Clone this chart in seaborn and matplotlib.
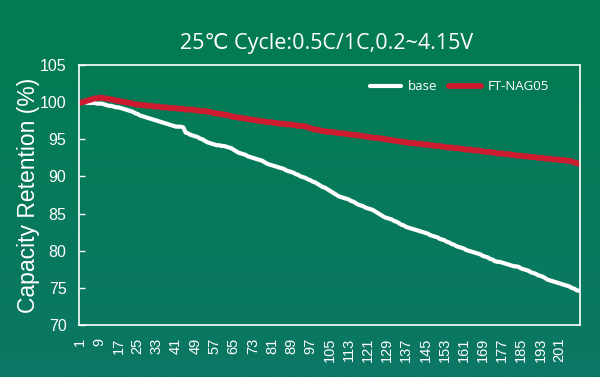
import seaborn as sns
import pandas as pd
import matplotlib.pyplot as plt
import numpy as np

sns.set_theme(style='ticks', rc={'axes.facecolor': 'none', 'text.color': 'white',
                                 'axes.edgecolor': 'white', 'xtick.color': 'white',
                                 'ytick.color': 'white', 'axes.labelcolor': 'white'})
plt.rcParams['font.family'] = ['Liberation Sans', 'DejaVu Sans']

title = '25\u2103 Cycle:0.5C/1C,0.2~4.15V'
y_name = 'Capacity Retention (%)'
x_name = 'Cycle'

cycles = list(range(1, 210))
x_ticks = list(range(1, 202, 8))
y_ticks = [70, 75, 80, 85, 90, 95, 100, 105]

base = [
    100.0, 100.0, 100.0, 99.9, 99.9, 99.9, 99.9, 99.8, 99.8, 99.8,
    99.7, 99.6, 99.5, 99.5, 99.4, 99.3, 99.3, 99.2, 99.1, 99.0,
    98.9, 98.8, 98.7, 98.5, 98.4, 98.2, 98.1, 98.0, 97.9, 97.8,
    97.7, 97.6, 97.5, 97.4, 97.3, 97.2, 97.1, 97.0, 96.9, 96.8,
    96.7, 96.7, 96.7, 96.6, 95.9, 95.8, 95.6, 95.5, 95.4, 95.3,
    95.1, 95.0, 94.8, 94.6, 94.5, 94.4, 94.3, 94.2, 94.2, 94.1,
    94.1, 94.0, 93.9, 93.8, 93.6, 93.4, 93.2, 93.1, 93.0, 92.9,
    92.7, 92.6, 92.5, 92.4, 92.3, 92.2, 92.1, 91.9, 91.7, 91.6,
    91.5, 91.4, 91.3, 91.2, 91.1, 91.0, 90.8, 90.7, 90.6, 90.5,
    90.3, 90.2, 90.0, 89.9, 89.8, 89.6, 89.5, 89.3, 89.2, 89.0,
    88.8, 88.6, 88.5, 88.3, 88.1, 87.9, 87.7, 87.5, 87.3, 87.2,
    87.1, 87.0, 86.9, 86.7, 86.6, 86.4, 86.2, 86.1, 86.0, 85.8,
    85.7, 85.6, 85.5, 85.3, 85.1, 84.9, 84.7, 84.5, 84.4, 84.3,
    84.2, 84.0, 83.9, 83.7, 83.5, 83.4, 83.2, 83.1, 83.0, 82.9,
    82.8, 82.7, 82.6, 82.5, 82.4, 82.3, 82.1, 82.0, 81.9, 81.8,
    81.6, 81.5, 81.4, 81.2, 81.1, 80.9, 80.8, 80.6, 80.5, 80.4,
    80.3, 80.1, 80.0, 79.9, 79.8, 79.7, 79.6, 79.5, 79.3, 79.2,
    79.1, 78.9, 78.8, 78.6, 78.5, 78.5, 78.4, 78.3, 78.2, 78.1,
    78.0, 77.9, 77.9, 77.8, 77.6, 77.5, 77.4, 77.3, 77.1, 77.0,
    76.9, 76.7, 76.6, 76.5, 76.3, 76.1, 76.0, 75.9, 75.8, 75.7,
    75.6, 75.5, 75.4, 75.3, 75.2, 75.0, 74.9, 74.7, 74.6,
]

ft_nag05 = [
    99.9, 100.0, 100.1, 100.2, 100.3, 100.4, 100.5, 100.5, 100.6, 100.6,
    100.5, 100.5, 100.4, 100.4, 100.3, 100.2, 100.2, 100.1, 100.0, 100.0,
    99.9, 99.9, 99.8, 99.7, 99.7, 99.6, 99.6, 99.6, 99.5, 99.5,
    99.5, 99.4, 99.4, 99.4, 99.3, 99.3, 99.3, 99.2, 99.2, 99.2,
    99.2, 99.1, 99.1, 99.1, 99.0, 99.0, 99.0, 99.0, 98.9, 98.9,
    98.8, 98.8, 98.8, 98.7, 98.7, 98.6, 98.5, 98.5, 98.4, 98.4,
    98.3, 98.3, 98.2, 98.1, 98.0, 98.0, 97.9, 97.9, 97.8, 97.8,
    97.7, 97.7, 97.6, 97.6, 97.5, 97.5, 97.4, 97.4, 97.3, 97.3,
    97.3, 97.2, 97.2, 97.1, 97.1, 97.1, 97.0, 97.0, 97.0, 96.9,
    96.9, 96.8, 96.8, 96.8, 96.7, 96.6, 96.5, 96.4, 96.3, 96.3,
    96.2, 96.1, 96.1, 96.0, 96.0, 96.0, 95.9, 95.9, 95.8, 95.8,
    95.8, 95.7, 95.7, 95.6, 95.6, 95.6, 95.5, 95.5, 95.4, 95.4,
    95.3, 95.3, 95.2, 95.2, 95.2, 95.1, 95.1, 95.0, 95.0, 94.9,
    94.9, 94.8, 94.8, 94.7, 94.7, 94.6, 94.6, 94.5, 94.5, 94.5,
    94.4, 94.4, 94.4, 94.3, 94.3, 94.3, 94.2, 94.2, 94.1, 94.1,
    94.1, 94.0, 94.0, 93.9, 93.9, 93.9, 93.8, 93.8, 93.8, 93.7,
    93.7, 93.6, 93.6, 93.6, 93.5, 93.5, 93.5, 93.4, 93.4, 93.3,
    93.3, 93.3, 93.2, 93.2, 93.1, 93.1, 93.1, 93.0, 93.0, 93.0,
    92.9, 92.9, 92.8, 92.8, 92.8, 92.7, 92.7, 92.7, 92.6, 92.6,
    92.6, 92.5, 92.5, 92.5, 92.4, 92.4, 92.4, 92.3, 92.3, 92.3,
    92.2, 92.2, 92.2, 92.1, 92.1, 92.0, 91.9, 91.8, 91.7,
]

data = pd.DataFrame({x_name: cycles, 'base': base, 'FT-NAG05': ft_nag05})

fig = plt.figure(figsize=(6, 3.77), dpi=100)

# green gradient background
bg = fig.add_axes([0, 0, 1, 1], zorder=-10)
top_c = np.array([1, 124, 80]) / 255
bot_c = np.array([12, 119, 101]) / 255
t = np.linspace(0, 1, 256)[:, None]
grad = (top_c * (1 - t) + bot_c * t)[:, None, :]
bg.imshow(grad, aspect='auto', extent=[0, 1, 0, 1])
bg.axis('off')

ax = fig.add_axes([79 / 600, 1 - 325 / 377, 501 / 600, 260 / 377])
sns.lineplot(data=data, x=x_name, y='base', ax=ax, color='white', linewidth=3.0, label='base')
sns.lineplot(data=data, x=x_name, y='FT-NAG05', ax=ax, color='#cc1a2e', linewidth=4.2, label='FT-NAG05')

ax.set_xlim(0.5, 209.5)
ax.set_ylim(70, 105)
ax.set_xticks(x_ticks)
ax.set_yticks(y_ticks)
ax.tick_params(axis='x', length=0, labelsize=10.5, rotation=90, pad=9)
ax.tick_params(axis='y', direction='in', length=4.5, width=1, labelsize=11.5, pad=9)
for s in ax.spines.values():
    s.set_color('white')
    s.set_linewidth(1.2)

ax.set_xlabel('')
ax.set_ylabel(y_name, fontsize=16.5)
ax.yaxis.set_label_coords(-0.078, 0.5)

fig.text(327 / 600, 1 - 43 / 377, title, ha='center', va='center', fontsize=15.5,
         family=['Open Sans', 'DejaVu Sans'], color='white')

leg = ax.legend(loc='center left', bbox_to_anchor=(363 / 600, 1 - 87 / 377), bbox_transform=fig.transFigure,
                ncol=2, frameon=False, handlelength=2.4, handletextpad=0.5,
                columnspacing=0.9, borderpad=0, prop={'family': ['Open Sans', 'DejaVu Sans'], 'size': 9.5})
for txt in leg.get_texts():
    txt.set_color('white')

fig.savefig('out.png', dpi=100)
